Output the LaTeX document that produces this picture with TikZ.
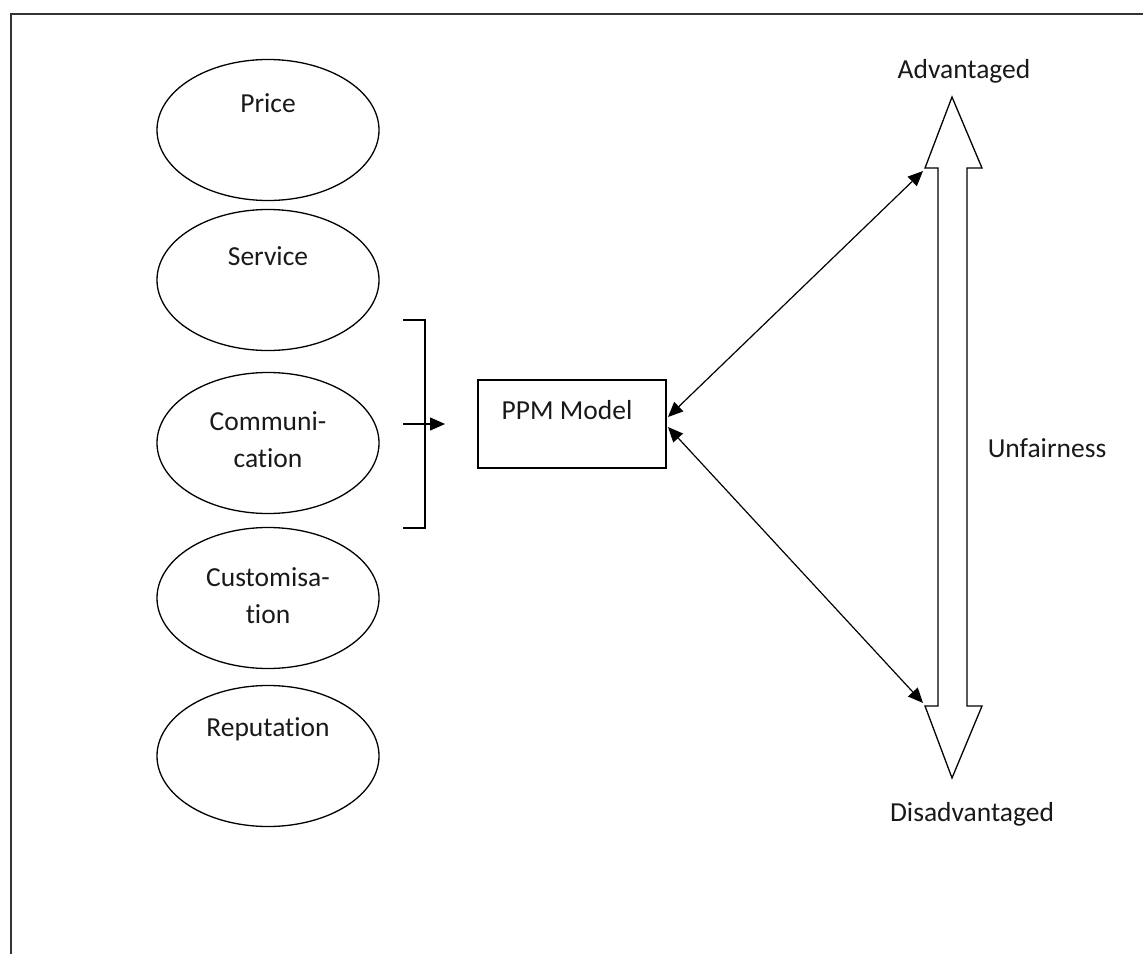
\documentclass[tikz,border=0pt]{standalone}
\usepackage{fontspec}
\setmainfont{Carlito}[Ligatures=NoCommon]
\usetikzlibrary{shapes.geometric,arrows.meta}
\begin{document}
\begin{tikzpicture}[x=1pt,y=-1pt,
  oval/.style={draw, line width=1.3pt, ellipse, minimum width=222pt, minimum height=141pt, inner sep=0pt},
  lbl/.style={font=\fontsize{27.5}{37}\selectfont, text=black!90, align=center, inner sep=0pt},
  box/.style={draw, line width=1.3pt, rectangle, minimum width=188pt, minimum height=88pt, inner sep=0pt},
  conn/.style={line width=1.2pt, {Triangle[length=15pt,width=13pt]}-{Triangle[length=15pt,width=13pt]}},
  oneway/.style={line width=1.2pt, -{Triangle[length=15pt,width=13pt]}},
  frame/.style={line width=2.2pt, draw=black!80}]
\useasboundingbox (0,0) rectangle (1143,954);
% frame (only top and left edges visible)
\draw[frame] (11,954) -- (11,14) -- (1143,14);
% ovals
\node[oval] (price) at (268,130) {};
\node[oval] (service) at (268,280) {};
\node[oval] (comm) at (268,443) {};
\node[oval] (cust) at (268,598) {};
\node[oval] (rep) at (268,756) {};
\node[lbl] (pricet) at (268,103) {Price};
\node[lbl] (servicet) at (268,256) {Service};
\node[lbl] (commt) at (268,440) {Communi-\\cation};
\node[lbl] (custt) at (268,596) {Customisa-\\tion};
\node[lbl] (rept) at (268,729) {Reputation};
% bracket
\coordinate (bt) at (403,320);
\coordinate (bb) at (403,528);
\coordinate (bm) at (403,424);
\coordinate (bend) at (445,424);
\draw[line width=1.3pt] (bt) -- (425,320) -- (425,528) -- (bb);
\draw[oneway] (bm) -- (bend);
% PPM box
\node[box] (ppm) at (572,424) {};
\node[lbl] (ppmt) at (567,410) {PPM Model};
% big double arrow
\coordinate (tip1) at (952,97);
\coordinate (ul) at (925,168);
\coordinate (ll) at (925,706);
\coordinate (tip2) at (952,778);
\draw[line width=1.3pt] (tip1) -- (982,168) -- (967,168) -- (967,706) -- (982,706) -- (tip2) -- (ll) -- (938,706) -- (938,168) -- (ul) -- cycle;
\coordinate (pu) at (668,417);
\coordinate (pl) at (668,427);
\draw[conn] (pu) -- (923,171);
\draw[conn] (pl) -- (923,703);
\node[lbl] (adv) at (964,71) {Advantaged};
\node[lbl] (dis) at (972,814) {Disadvantaged};
\node[lbl] (unf) at (1047,448) {Unfairness};
\end{tikzpicture}
\end{document}
